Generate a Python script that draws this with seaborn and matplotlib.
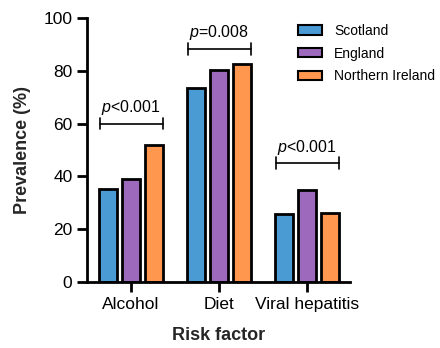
import matplotlib
matplotlib.use("Agg")
import matplotlib.pyplot as plt
import seaborn as sns
import pandas as pd

factors = ["Alcohol", "Diet", "Viral hepatitis"]
regions = ["Scotland", "England", "Northern Ireland"]
scotland = [35.2, 73.5, 25.8]
england = [39.1, 80.2, 34.9]
northern_ireland = [51.9, 82.6, 26.1]
p_labels = ["<0.001", "=0.008", "<0.001"]
bracket_heights = [60, 88.3, 45]
palette = ["#4A9AD4", "#9C69BC", "#FF974F"]

rows = []
for vals, reg in zip([scotland, england, northern_ireland], regions):
    for f, v in zip(factors, vals):
        rows.append({"Risk factor": f, "Region": reg, "Prevalence": v})
df = pd.DataFrame(rows)

sns.set_style("ticks")
plt.rcParams["font.family"] = ["Liberation Sans", "DejaVu Sans"]
plt.rcParams["mathtext.fontset"] = "custom"
plt.rcParams["mathtext.it"] = "Liberation Sans:italic"
plt.rcParams["mathtext.rm"] = "Liberation Sans"
plt.rcParams["text.color"] = "black"

fig = plt.figure(figsize=(4.4, 3.48), dpi=100)
ax = fig.add_axes([87 / 440, 66 / 348, 263 / 440, 264 / 348])

sns.barplot(data=df, x="Risk factor", y="Prevalence", hue="Region",
            hue_order=regions, order=factors, palette=palette,
            width=0.78, gap=0.2, edgecolor="black", linewidth=2,
            saturation=1, ax=ax)

ax.set_xlim(-0.5, 2.49)
ax.set_ylim(0, 100)
ax.set_yticks(range(0, 101, 20))
for s in ["top", "right"]:
    ax.spines[s].set_visible(False)
for s in ["left", "bottom"]:
    ax.spines[s].set_linewidth(2)
    ax.spines[s].set_color("black")
ax.tick_params(axis="both", width=2, length=7, labelsize=12.5, colors="black")
ax.set_xlabel("Risk factor", fontsize=13, fontweight="bold", labelpad=11)
ax.set_ylabel("Prevalence (%)", fontsize=13, fontweight="bold", labelpad=9)

# significance brackets over each group
for i, (lab, h) in enumerate(zip(p_labels, bracket_heights)):
    x0, x1 = i - 0.355, i + 0.36
    ax.plot([x0, x1], [h, h], color="black", lw=1.2, clip_on=False)
    for xe in (x0, x1):
        ax.plot([xe, xe], [h - 2.2, h + 2.2], color="black", lw=1.2, clip_on=False)
    ax.text(i, h + 2.5, r"$\mathit{p}$" + lab, ha="center", va="bottom",
            fontsize=11.5, clip_on=False)

leg = ax.legend(loc="upper left", bbox_to_anchor=(298 / 440, 324 / 348),
                bbox_transform=fig.transFigure, frameon=False, fontsize=10,
                borderpad=0, borderaxespad=0,
                handlelength=1.73, handleheight=0.65, labelspacing=0.62,
                handletextpad=0.86)
for h in leg.legend_handles:
    h.set_edgecolor("black")
    h.set_linewidth(1.5)

fig.savefig("out.png", dpi=100)
